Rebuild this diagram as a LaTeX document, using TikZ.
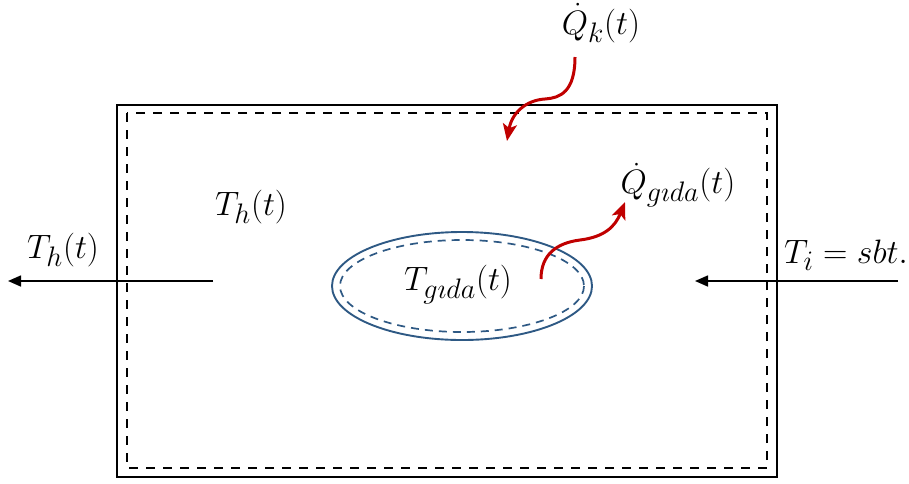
\documentclass[tikz,border=0pt]{standalone}
\usepackage{amsmath}
\usetikzlibrary{arrows.meta}
\definecolor{heatred}{RGB}{192,0,0}
\definecolor{foodblue}{RGB}{46,89,132}
\tikzset{
  wall/.style={draw,line width=2.5pt},
  innerwall/.style={draw,line width=1.9pt,dash pattern=on 9pt off 8pt},
  foodwall/.style={draw=foodblue,line width=1.9pt},
  innerfood/.style={draw=foodblue,line width=1.7pt,dash pattern=on 8pt off 6pt},
  flow/.style={-{Triangle[length=13pt,width=11pt]},line width=1.6pt},
  heat/.style={-{Stealth[length=17pt,width=14pt,inset=4pt]},draw=heatred,line width=3pt},
  lbl/.style={inner sep=0pt,scale=1.36,font=\fontsize{24.88}{30}\selectfont}
}

\begin{document}
\begin{tikzpicture}[x=1pt,y=-1pt]
\useasboundingbox (0,0) rectangle (909,483);
% vessel walls
\draw[wall] (117,105) rectangle (777,477);
\draw[innerwall] (127,113) rectangle (767,468);
% food
\coordinate (food) at (462,286);
\draw[foodwall] (food) ellipse [x radius=130,y radius=54];
\draw[innerfood] (food) ellipse [x radius=122,y radius=46];
\node[lbl] (Tfood) at (458,285) {$T_{g\imath da}(t)$};
% labels
\node[lbl] (Qk) at (601,23) {$\dot{Q}_k(t)$};
\node[lbl] (Qfood) at (678,185) {$\dot{Q}_{g\imath da}(t)$};
\node[lbl] (Tout) at (63,250) {$T_h(t)$};
\node[lbl] (Tin) at (251,207) {$T_h(t)$};
\node[lbl] (Tinlet) at (846,255) {$T_i = sbt.$};
% flows
\coordinate (outA) at (213,281);
\coordinate (outB) at (8,281);
\coordinate (inA) at (898,281);
\coordinate (inB) at (695,281);
\draw[flow] (outA) -- (outB);
\draw[flow] (inA) -- (inB);
% heat
\coordinate (qkA) at (575,57);
\coordinate (qkB) at (507,141);
\draw[heat] (qkA) .. controls (575,92) and (560,98) .. (545,99)
  .. controls (527,100) and (512,112) .. (qkB);
\coordinate (qfA) at (541,279);
\coordinate (qfB) at (625,202);
\draw[heat] (qfA) .. controls (541,255) and (556,243) .. (580,240)
  .. controls (604,237) and (615,227) .. (qfB);
\end{tikzpicture}
\end{document}
